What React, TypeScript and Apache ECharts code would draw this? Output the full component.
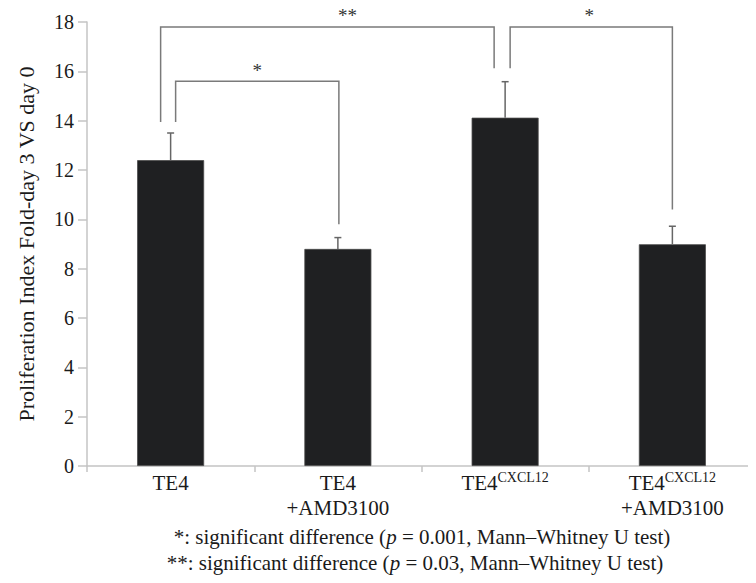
import React, { useEffect, useRef } from "react";
import * as echarts from "echarts";

const categories = ["TE4", "TE4\n+AMD3100", "TE4{sup|CXCL12}", "TE4{sup|CXCL12}\n+AMD3100"];
const means = [12.4, 8.8, 14.12, 8.99];
const errTops = [13.5, 9.26, 15.58, 9.72];
const yTicks = [0, 18, 2]; // min, max, interval

const bracketFrom = [0, 0, 2];
const bracketTo = [2, 1, 3];
const bracketTop = [17.8, 15.6, 17.8];
const bracketLeftEnd = [13.95, 13.95, 16.12];
const bracketRightEnd = [16.12, 9.8, 10.4];
const bracketLabels = ["**", "*", "*"];

const footnotes = [
  "*: significant difference ({i|p} = 0.001, Mann–Whitney U test)",
  "**: significant difference ({i|p} = 0.03, Mann–Whitney U test)",
];
const yAxisTitle = "Proliferation Index Fold-day 3 VS day 0";

// pixel offsets (style only)
const bracketDx = [
  [-10, -11],
  [5, 1],
  [5, 0],
];
const labelDx = [20, 0, -2];
const footX = [422, 415];
const footY = [537, 563];

const FONT = "Liberation Serif, Times New Roman, serif";

export default function App() {
  const ref = useRef<HTMLDivElement>(null);
  useEffect(() => {
    if (!ref.current) return;
    const chart = echarts.init(ref.current, undefined, { renderer: "svg" });
    const option: any = {
      animation: false,
      backgroundColor: "#ffffff",
      textStyle: { fontFamily: FONT },
      grid: { left: 87, right: -10, top: 22, bottom: 117, containLabel: false },
      xAxis: {
        type: "category",
        data: categories,
        boundaryGap: true,
        axisLine: { show: true, lineStyle: { color: "#c4c4c4", width: 1.5 } },
        axisTick: { show: true, interval: 0, length: 6, lineStyle: { color: "#c4c4c4", width: 1.5 } },
        axisLabel: {
          interval: 0,
          margin: 4,
          color: "#1a1a1a",
          fontFamily: FONT,
          fontSize: 21,
          lineHeight: 25,
          rich: {
            sup: { fontSize: 14, fontFamily: FONT, color: "#1a1a1a", padding: [0, 0, 10, 0] },
          },
        },
      },
      yAxis: {
        type: "value",
        min: yTicks[0],
        max: yTicks[1],
        interval: yTicks[2],
        name: yAxisTitle,
        nameLocation: "middle",
        nameGap: 50,
        nameTextStyle: { fontFamily: FONT, fontSize: 22, color: "#1a1a1a" },
        splitLine: { show: false },
        axisLine: { show: true, lineStyle: { color: "#c4c4c4", width: 1.5 } },
        axisTick: { show: true, length: 9, lineStyle: { color: "#c4c4c4", width: 1.5 } },
        axisLabel: { margin: 13, color: "#1a1a1a", fontFamily: FONT, fontSize: 20 },
      },
      series: [
        {
          type: "bar",
          data: means,
          barWidth: 67,
          itemStyle: { color: "#1f2022", borderColor: "#4a4a4a", borderWidth: 0.8 },
          z: 2,
        },
        {
          type: "custom",
          data: means.map((m, i) => [i, errTops[i], m]),
          clip: false,
          z: 3,
          renderItem: (params: any, api: any) => {
            const i = params.dataIndex;
            const base = api.coord([i, means[i]]);
            const top = api.coord([i, errTops[i]]);
            return {
              type: "group",
              children: [
                {
                  type: "line",
                  shape: { x1: base[0], y1: base[1], x2: top[0], y2: top[1] },
                  style: { stroke: "#666", lineWidth: 1.5 },
                },
                {
                  type: "line",
                  shape: { x1: top[0] - 3.5, y1: top[1], x2: top[0] + 3.5, y2: top[1] },
                  style: { stroke: "#666", lineWidth: 1.5 },
                },
              ],
            };
          },
        },
        {
          type: "custom",
          data: bracketFrom.map((f, i) => [f, bracketTop[i]]),
          clip: false,
          z: 4,
          renderItem: (params: any, api: any) => {
            const i = params.dataIndex;
            const a = api.coord([bracketFrom[i], bracketTop[i]]);
            const b = api.coord([bracketTo[i], bracketTop[i]]);
            const aEnd = api.coord([bracketFrom[i], bracketLeftEnd[i]]);
            const bEnd = api.coord([bracketTo[i], bracketRightEnd[i]]);
            const x1 = a[0] + bracketDx[i][0];
            const x2 = b[0] + bracketDx[i][1];
            return {
              type: "group",
              children: [
                {
                  type: "polyline",
                  shape: {
                    points: [
                      [x1, aEnd[1]],
                      [x1, a[1]],
                      [x2, b[1]],
                      [x2, bEnd[1]],
                    ],
                  },
                  style: { stroke: "#7a7a7a", lineWidth: 1.5, fill: null },
                },
                {
                  type: "text",
                  style: {
                    text: bracketLabels[i],
                    x: (x1 + x2) / 2 + labelDx[i],
                    y: a[1] - 11,
                    align: "center",
                    verticalAlign: "middle",
                    fontFamily: FONT,
                    fontSize: 19,
                    fill: "#333",
                  },
                },
              ],
            };
          },
        },
      ],
      graphic: footnotes.map((t, k) => ({
        type: "text",
        x: footX[k],
        y: footY[k],
        style: {
          text: t,
          align: "center",
          verticalAlign: "middle",
          fontFamily: FONT,
          fontSize: 21,
          fill: "#1a1a1a",
          rich: {
            i: { fontFamily: FONT, fontSize: 21, fontStyle: "italic", fill: "#1a1a1a" },
          },
        },
      })),
    };
    chart.setOption(option);
    return () => chart.dispose();
  }, []);
  return <div ref={ref} style={{ width: 756, height: 583, margin: -8 }} />;
}
